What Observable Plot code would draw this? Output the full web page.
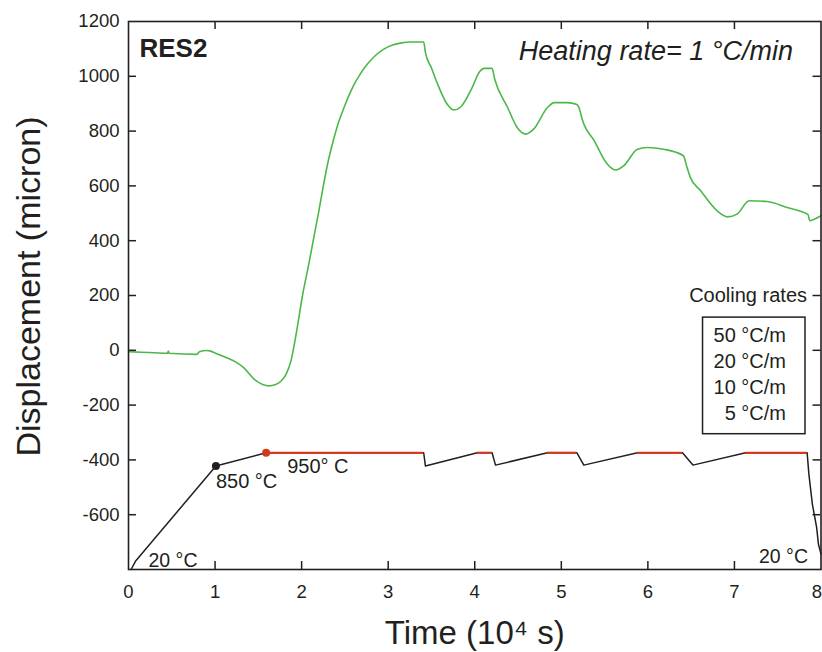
<!DOCTYPE html>
<html><head><meta charset="utf-8">
<script src="https://cdn.jsdelivr.net/npm/d3@7"></script>
<script src="https://cdn.jsdelivr.net/npm/@observablehq/plot@0.6"></script>
<style>body{margin:0;background:#fff;} svg{display:block}</style>
</head><body><div id="chart"></div>
<script>
// Displacement curve (green): time in 10^4 s, displacement in micron
const dispTime = [0, 0.3, 0.45, 0.46, 0.47, 0.79, 0.82, 0.9, 0.95, 1.0, 1.14, 1.25, 1.33, 1.45, 1.55, 1.62, 1.7, 1.76, 1.82, 1.88, 1.94, 2.01, 2.08, 2.14, 2.2, 2.245, 2.3, 2.37, 2.43, 2.49, 2.55, 2.61, 2.68, 2.76, 2.85, 2.95, 3.05, 3.14, 3.25, 3.41, 3.43, 3.5, 3.57, 3.68, 3.76, 3.84, 3.97, 4.05, 4.11, 4.2, 4.23, 4.38, 4.49, 4.59, 4.68, 4.84, 4.92, 5.07, 5.18, 5.21, 5.24, 5.38, 5.53, 5.63, 5.72, 5.88, 5.99, 6.18, 6.41, 6.45, 6.49, 6.61, 6.8, 6.92, 7.03, 7.17, 7.38, 7.61, 7.85, 7.87, 7.92, 8.0];
const dispValue = [-5, -9, -11, -3, -11, -15, -5, -1, -3, -10, -28, -45, -63, -105, -125, -130, -125, -113, -88, -35, 65, 200, 310, 410, 510, 590, 680, 770, 835, 886, 932, 972, 1010, 1045, 1075, 1099, 1114, 1121, 1125, 1125, 1087, 1030, 972, 899, 877, 889, 959, 1014, 1029, 1029, 990, 886, 813, 789, 807, 886, 904, 904, 897, 880, 844, 765, 680, 658, 673, 734, 740, 734, 710, 670, 631, 582, 509, 487, 497, 546, 543, 521, 495, 473, 478, 491];

// Temperature program (black), drawn in displacement units
const tempTime = [0.03, 0.08, 1.01, 1.59, 3.41, 3.43, 4.03, 4.2, 4.24, 4.84, 5.18, 5.26, 5.88, 6.40, 6.52, 7.13, 7.84, 7.86, 7.9, 7.95, 7.97, 8.0];
const tempValue = [-800, -770, -422, -374, -374, -422, -374, -374, -419, -374, -374, -419, -374, -374, -419, -374, -374, -452, -561, -647, -707, -744];

// Isothermal holds at 950 °C (red)
const holdStart = [1.59, 4.03, 4.84, 5.88, 7.13];
const holdEnd = [3.41, 4.2, 5.18, 6.40, 7.84];
const holdLevel = [-374, -374, -374, -374, -374];

// Marked points
const markerTime = [1.01, 1.59];
const markerValue = [-422, -374];
const markerLabel = ["850 °C", "950° C"];

const xTicks = [0, 1, 2, 3, 4, 5, 6, 7];
const xLastTick = [8];
const yTicks = [-600, -400, -200, 0, 200, 400, 600, 800, 1000, 1200];
const yInnerTicks = [-600, -400, -200, 0, 200, 400, 600, 800, 1000];
const xInnerTicks = [1, 2, 3, 4, 5, 6, 7];
const coolingRates = ["50 °C/m", "20 °C/m", "10 °C/m", "5 °C/m"];

const FONT = "'Liberation Sans', Arial, Helvetica, sans-serif";
const INK = "#231f20";
const GREEN = "#4cb848";
const RED = "#d13a1f";
const W = 822, H = 652, ML = 128, MR = 1.5, MT = 21, MB = 83;
const innerW = W - ML - MR, innerH = H - MT - MB;

const green = dispTime.map((t, i) => ({t, v: dispValue[i]}));
const temp = tempTime.map((t, i) => ({t, v: tempValue[i]}));
const holds = holdStart.map((s, i) => ({s, e: holdEnd[i], v: holdLevel[i]}));
const markers = markerTime.map((t, i) => ({t, v: markerValue[i], label: markerLabel[i]}));

const chart = Plot.plot({
  width: W, height: H,
  marginLeft: ML, marginRight: MR, marginTop: MT, marginBottom: MB,
  style: {fontFamily: FONT, color: INK, background: "#fff"},
  x: {domain: [0, 8]},
  y: {domain: [-800, 1200]},
  marks: [
    Plot.axisX({ticks: xTicks, tickSize: 0, tickPadding: 15, tickFormat: d => String(d), fontSize: 18.5, label: null, fill: INK}),
    Plot.axisX({ticks: xLastTick, tickSize: 0, tickPadding: 15, tickFormat: d => String(d), fontSize: 18.5, label: null, fill: INK, dx: -4}),
    Plot.axisY({ticks: yTicks, tickSize: 0, tickPadding: 9, tickFormat: d => String(d), fontSize: 18.5, label: null, fill: INK}),
    Plot.tickX(xInnerTicks, {x: d => d, insetTop: innerH - 8, stroke: INK, strokeWidth: 1.5}),
    Plot.tickX(xInnerTicks, {x: d => d, insetBottom: innerH - 8, stroke: INK, strokeWidth: 1.5}),
    Plot.tickY(yInnerTicks, {y: d => d, insetRight: innerW - 8, stroke: INK, strokeWidth: 1.5}),
    Plot.tickY(yInnerTicks, {y: d => d, insetLeft: innerW - 8, stroke: INK, strokeWidth: 1.5}),
    Plot.line(green, {x: "t", y: "v", stroke: GREEN, strokeWidth: 1.6, curve: "monotone-x"}),
    Plot.line(temp, {x: "t", y: "v", stroke: INK, strokeWidth: 1.5}),
    Plot.ruleY(holds, {y: "v", x1: "s", x2: "e", stroke: RED, strokeWidth: 2.2}),
    Plot.dot(markers, {x: "t", y: "v", r: 4, fill: [INK, RED], stroke: null}),
    Plot.text(markers.slice(0, 1), {x: "t", y: "v", text: "label", textAnchor: "start", lineAnchor: "top", dx: 0, dy: 8, fontSize: 20, fill: INK}),
    Plot.text(markers.slice(1, 2), {x: "t", y: "v", text: "label", textAnchor: "start", lineAnchor: "top", dx: 21, dy: 6, fontSize: 20, fill: INK}),
    Plot.frame({stroke: INK, strokeWidth: 1.6}),
    Plot.text(["RES2"], {text: d => d, frameAnchor: "top-left", textAnchor: "start", lineAnchor: "top", dx: 11, dy: 17, fontSize: 26, fontWeight: "bold", fill: INK}),
    Plot.text(["Heating rate= 1 °C/min"], {text: d => d, frameAnchor: "top-right", textAnchor: "end", lineAnchor: "top", dx: -28, dy: 19, fontSize: 27, fontStyle: "italic", fill: INK}),
    Plot.text(["Cooling rates"], {text: d => d, frameAnchor: "top-right", textAnchor: "end", lineAnchor: "top", dx: -14, dy: 266, fontSize: 20, fill: INK}),
    Plot.text([coolingRates.join("\n")], {text: d => d, frameAnchor: "top-right", textAnchor: "end", lineAnchor: "top", lineHeight: 1.31, dx: -35, dy: 301.5, fontSize: 20, fill: INK, className: "cool-legend"}),
    Plot.text(["20 °C"], {text: d => d, frameAnchor: "bottom-left", textAnchor: "start", lineAnchor: "top", dx: 20, dy: -16, fontSize: 19.5, fill: INK}),
    Plot.text(["20 °C"], {text: d => d, frameAnchor: "bottom-right", textAnchor: "end", lineAnchor: "top", dx: -13, dy: -20.5, fontSize: 19.5, fill: INK}),
    Plot.text(["Time (10⁴ s)"], {text: d => d, frameAnchor: "bottom", textAnchor: "middle", lineAnchor: "top", dy: 51, fontSize: 33, fill: INK}),
    Plot.text(["Displacement (micron)"], {text: d => d, frameAnchor: "left", textAnchor: "middle", lineAnchor: "top", rotate: -90, dx: -113, dy: -9, fontSize: 34, fill: INK})
  ]
});
document.getElementById("chart").appendChild(chart);

// Box around the cooling-rate list, sized from the text itself
const g = chart.querySelector("g.cool-legend") || chart.querySelector(".cool-legend");
if (g) {
  const bb = g.getBBox();
  const rect = document.createElementNS("http://www.w3.org/2000/svg", "rect");
  rect.setAttribute("x", bb.x - 11);
  rect.setAttribute("y", bb.y - 6.5);
  rect.setAttribute("width", bb.width + 11 + 19);
  rect.setAttribute("height", bb.height + 6.5 + 9.5);
  rect.setAttribute("fill", "none");
  rect.setAttribute("stroke", INK);
  rect.setAttribute("stroke-width", 1.5);
  g.appendChild(rect);
}
</script>
</body></html>
